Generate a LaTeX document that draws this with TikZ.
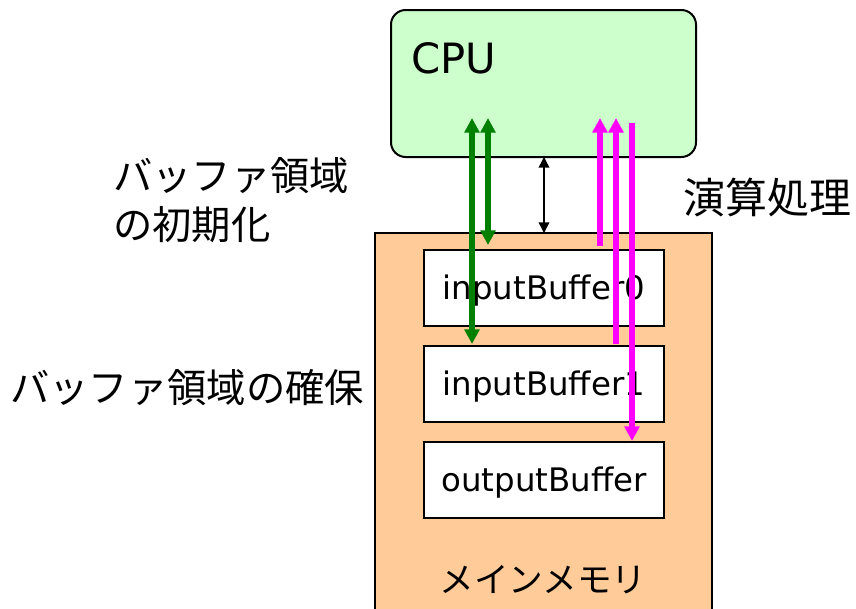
\documentclass[tikz,border=0pt]{standalone}
\usepackage{fontspec}
\setmainfont{DejaVu Sans}
\newfontfamily\jpfont{Noto Sans CJK JP}
\usetikzlibrary{arrows.meta}
\definecolor{cpugreen}{HTML}{CCFFCC}
\definecolor{memorange}{HTML}{FFCC99}
\definecolor{darkgreen}{HTML}{008000}
\definecolor{brightmagenta}{HTML}{FF00FF}
\tikzset{
  bufbox/.style={draw,line width=2.2pt,fill=white,minimum width=180pt,minimum height=57pt,inner sep=0pt,text height=23pt,text depth=6pt,font=\fontsize{24.3}{28}\selectfont},
  jplabel/.style={font=\jpfont\fontsize{29.5}{37}\selectfont,inner sep=0pt},
  garrow/.style={darkgreen,line width=3.8pt,{Triangle[width=11pt,length=11pt]}-{Triangle[width=11pt,length=11pt]}},
  marrow/.style={brightmagenta,line width=3.8pt}
}
\begin{document}
\begin{tikzpicture}[x=0.75pt,y=-0.75pt]
  \useasboundingbox[fill=white] (0,0) rectangle (856,608);
  % CPU
  \draw[line width=1.5pt,fill=cpugreen,rounded corners=11pt] (391,10) rectangle (696,157);
  \node[anchor=west,inner sep=0pt,font=\fontsize{31.3}{36}\selectfont] (cpu) at (411,58) {CPU};
  % main memory
  \draw[line width=1.5pt,fill=memorange] (375,233) rectangle (712,640);
  \node[bufbox] (buf0) at (544,288) {inputBuffer0};
  \node[bufbox] (buf1) at (544,384) {inputBuffer1};
  \node[bufbox] (obuf) at (544,480) {outputBuffer};
  \node[jplabel,font=\jpfont\fontsize{26}{32}\selectfont] (mem) at (543,580) {メインメモリ};
  % labels
  \node[jplabel,anchor=west,align=left] (init) at (113,200) {バッファ領域\\の初期化};
  \node[jplabel,anchor=west] (alloc) at (10,388) {バッファ領域の確保};
  \node[jplabel,anchor=west,font=\jpfont\fontsize{31.5}{37}\selectfont] (calc) at (683,197) {演算処理};
  % arrows
  \coordinate (g1a) at (472,118);
  \coordinate (g1b) at (472,344);
  \coordinate (g2a) at (488,118);
  \coordinate (g2b) at (488,245);
  \draw[garrow] (g1a) -- (g1b);
  \draw[garrow] (g2a) -- (g2b);
  \coordinate (bw) at (544,157);
  \coordinate (bm) at (544,233);
  \draw[line width=1.1pt,{Triangle[width=8pt,length=8pt]}-{Triangle[width=8pt,length=8pt]}] (bw) -- (bm);
  \coordinate (m1a) at (600,118);
  \coordinate (m1b) at (600,246);
  \coordinate (m2a) at (616,118);
  \coordinate (m2b) at (616,344);
  \coordinate (m3a) at (632,123);
  \coordinate (m3b) at (632,441);
  \draw[marrow,{Triangle[width=11pt,length=11pt]}-] (m1a) -- (m1b);
  \draw[marrow,{Triangle[width=11pt,length=11pt]}-] (m2a) -- (m2b);
  \draw[marrow,-{Triangle[width=11pt,length=11pt]}] (m3a) -- (m3b);
\end{tikzpicture}
\end{document}
